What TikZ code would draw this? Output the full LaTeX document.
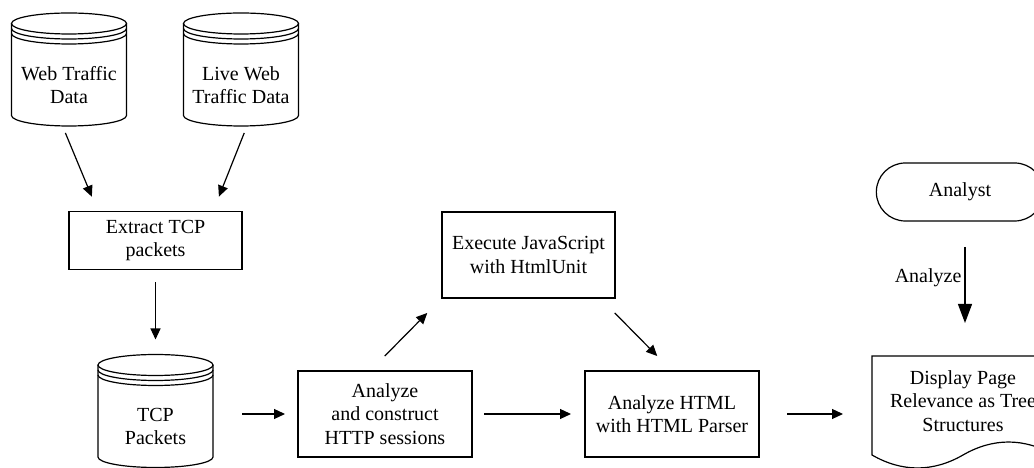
\documentclass[tikz,border=0pt]{standalone}
\usepackage{fontspec}
\setmainfont{Liberation Serif}
\usetikzlibrary{arrows.meta,positioning,calc,shapes.misc}
\tikzset{
  proc/.style={draw, line width=1.2pt, align=center, minimum width=173pt, minimum height=86pt, inner sep=4pt, outer sep=0pt},
  drum/.style={align=center, minimum width=115pt, minimum height=82pt, inner sep=0pt, outer sep=0pt},
  term/.style={draw, line width=1.2pt, rounded rectangle, minimum width=174pt, minimum height=58pt, outer sep=0pt},
  doc/.style={align=center, minimum width=182pt, minimum height=90pt, inner sep=0pt, outer sep=0pt},
  flow/.style={-{Triangle[length=11pt,width=10pt]}, line width=1.2pt},
  bigflow/.style={-{Triangle[length=19pt,width=14pt]}, line width=1.2pt}
}
% database drum drawn round the body node #1
\newcommand{\drumoutline}[1]{%
  \draw[line width=1.2pt] ($(#1.north west)+(0,20.5)$) -- ($(#1.south west)+(0,10.5)$)
    arc[start angle=180, end angle=360, x radius=57.5pt, y radius=10.5pt]
    -- ($(#1.north east)+(0,20.5)$);
  \draw[line width=1.2pt] ($(#1.north)+(0,20.5)$) ellipse[x radius=57.5pt, y radius=10.5pt];
  \draw[line width=1.2pt] ($(#1.north west)+(0,15.5)$) arc[start angle=180, end angle=360, x radius=57.5pt, y radius=10.5pt];
  \draw[line width=1.2pt] ($(#1.north west)+(0,10.5)$) arc[start angle=180, end angle=360, x radius=57.5pt, y radius=10.5pt];
  \coordinate (#1-top) at ($(#1.north)+(0,31)$);
}

\begin{document}
\begin{tikzpicture}[x=1pt, y=1pt, font=\fontsize{20}{23.5}\selectfont]
  \useasboundingbox (0,0) rectangle (1034,468);

  \node[drum] (web) at (69,383) {Web Traffic\\Data};
  \node[drum, right=57pt of web] (live) {Live Web\\Traffic Data};
  \node[drum] (tcp) at (155.5,41.5) {TCP\\Packets};
  \drumoutline{web}
  \drumoutline{live}
  \drumoutline{tcp}

  \node[proc, minimum height=58pt, above=116pt of tcp] (extract) {Extract TCP\\packets};
  \node[proc, minimum width=174pt] (http) at (385,54) {Analyze\\and construct\\HTTP sessions};
  \node[proc] (exec) at (528.5,213) {Execute JavaScript\\with HtmlUnit};
  \node[proc, minimum width=174pt, right=113pt of http] (html) {Analyze HTML\\with HTML Parser};

  \node[term] (analyst) at (960,276) {Analyst};
  \node[doc] (display) at (963,67) {Display Page\\Relevance as Tree\\Structures};
  \draw[line width=1.2pt] ($(display.south west)+(0,-9)$) -- (display.north west) -- (display.north east)
    -- ($(display.south east)+(0,-9)$)
    .. controls +(-30,17.3) and +(30,17.3) .. ++(-91,0)
    .. controls +(-30,-17.3) and +(30,-17.3) .. ++(-91,0) -- cycle;

  \draw[flow, shorten <=7.5pt, shorten >=16pt] ($(web.south)+(-6.5,0)$) -- ($(extract.north west)+(29,0)$);
  \draw[flow, shorten <=7.5pt, shorten >=16pt] ($(live.south)+(6,0)$) -- ($(extract.north east)+(-29,0)$);
  \draw[flow, shorten <=13pt, shorten >=15pt] (extract.south) -- (tcp-top);
  \draw[flow, shorten <=29pt, shorten >=13pt] (tcp.east |- http.west) -- (http.west);
  \draw[flow, shorten <=21pt, shorten >=21pt] ($(http.north)+(-15,0)$) -- (exec.south west);
  \draw[flow, shorten <=21pt, shorten >=21pt] ($(exec.south east)+(-15,0)$) -- (html.north);
  \draw[flow, shorten <=12pt, shorten >=14pt] (http.east) -- (html.west);
  \draw[flow, shorten <=28pt, shorten >=29pt] (html.east) -- (display.west |- html.east);
  \draw[bigflow, shorten <=26pt, shorten >=33pt] ([xshift=5pt]analyst.south) -- ([xshift=2pt]display.north)
    node[left, pos=0.42, inner sep=3pt] {Analyze};
\end{tikzpicture}
\end{document}
